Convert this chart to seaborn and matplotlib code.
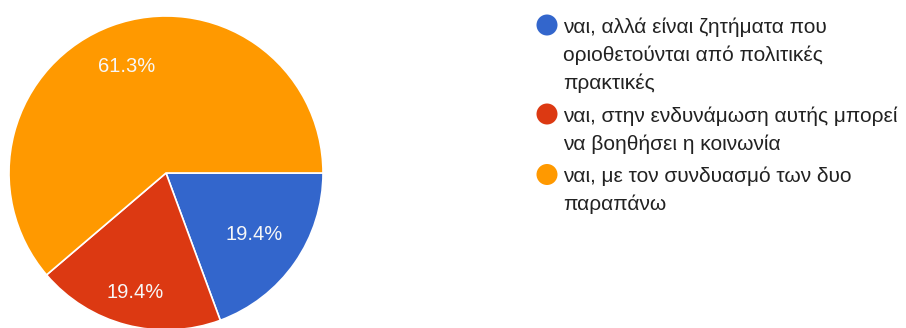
import matplotlib
matplotlib.use("Agg")
import numpy as np
import matplotlib.pyplot as plt
from matplotlib.patches import Circle
import seaborn as sns

# Survey answers (share of responses, %)
categories = [
    "ναι, αλλά είναι ζητήματα που\nοριοθετούνται από πολιτικές\nπρακτικές",
    "ναι, στην ενδυνάμωση αυτής μπορεί\nνα βοηθήσει η κοινωνία",
    "ναι, με τον συνδυασμό των δυο\nπαραπάνω",
]
shares = [19.4, 19.4, 61.3]
share_labels = [f"{v:.1f}%" for v in shares]
colors = ["#3366cc", "#dc3912", "#ff9900"]

sns.set_theme(style="white")
plt.rcParams["font.family"] = ["Liberation Sans", "DejaVu Sans"]

W, H, DPI = 906, 328, 100
fig = plt.figure(figsize=(W / DPI, H / DPI), dpi=DPI, facecolor="white")

# Pie: centre (166, 173) px, radius 157 px
cx, cy, r = 166, 173, 157
ax = fig.add_axes([(cx - r) / W, (H - cy - r) / H, 2 * r / W, 2 * r / H])
wedges, texts = ax.pie(
    shares,
    labels=share_labels,
    colors=colors,
    startangle=0,
    counterclock=False,
    labeldistance=0.72,
    wedgeprops=dict(edgecolor="white", linewidth=1.2),
    textprops=dict(color="#f7f7f7", fontsize=14.5),
)
# Radial position of each percentage label inside its wedge
label_radii = [0.685, 0.785, 0.722]
for w, t, rad in zip(wedges, texts, label_radii):
    mid = np.deg2rad((w.theta1 + w.theta2) / 2)
    t.set_position((rad * np.cos(mid), rad * np.sin(mid)))
    t.set_ha("center")
    t.set_va("center")
ax.set_xlim(-1, 1)
ax.set_ylim(-1, 1)
ax.set_aspect("equal")
ax.axis("off")

# Legend drawn in pixel coordinates
lax = fig.add_axes([0, 0, 1, 1])
lax.set_xlim(0, W)
lax.set_ylim(H, 0)
lax.axis("off")

line_pitch = 28
group_baselines = [33, 122, 182.5]
for label, color, y0 in zip(categories, colors, group_baselines):
    lax.add_patch(Circle((547, y0 - 8), 10.5, color=color, lw=0))
    for i, line in enumerate(label.split("\n")):
        lax.text(563, y0 + i * line_pitch, line, fontsize=15,
                 color="#222222", ha="left", va="baseline")

fig.savefig("out.png", dpi=DPI, facecolor="white")
